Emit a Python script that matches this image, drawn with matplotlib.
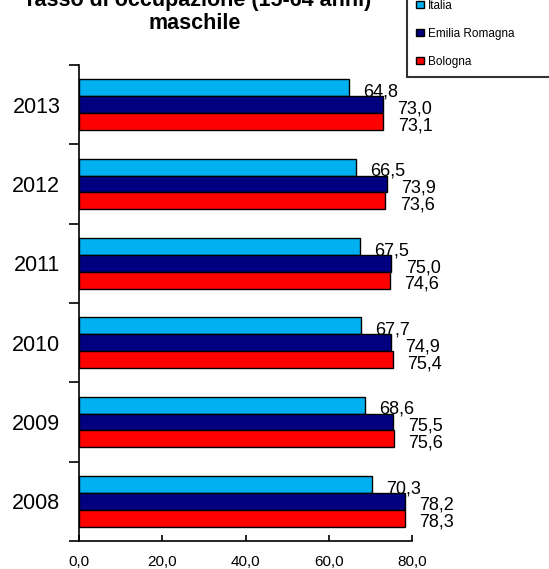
import matplotlib
matplotlib.use("Agg")
import matplotlib.pyplot as plt
import numpy as np
from matplotlib.ticker import FixedLocator, FuncFormatter

plt.rcParams["font.family"] = ["Liberation Sans", "DejaVu Sans"]

# Data.
years = ["2008", "2009", "2010", "2011", "2012", "2013"]
italia = [70.3, 68.6, 67.7, 67.5, 66.5, 64.8]
emilia_romagna = [78.2, 75.5, 74.9, 75.0, 73.9, 73.0]
bologna = [78.3, 75.6, 75.4, 74.6, 73.6, 73.1]
series_names = ["Italia", "Emilia Romagna", "Bologna"]
x_ticks = [0, 20, 40, 60, 80]

colors = ["#00B0F0", "#000080", "#FF0000"]


def comma(v):
    """Italian decimal comma."""
    return f"{v:.1f}".replace(".", ",")


fig = plt.figure(figsize=(5.49, 5.69), dpi=100)
ax = fig.add_axes([79 / 549, 1 - 541 / 569, (412 - 79) / 549, (541 - 65) / 569])

y = np.arange(len(years))
h = 0.214
offsets = [h, 0, -h]
bars = []
for vals, off, col, name in zip([italia, emilia_romagna, bologna], offsets, colors, series_names):
    b = ax.barh(y + off, vals, height=h, color=col, edgecolor="black", linewidth=1.0, label=name)
    bars.append(b)
    # Value labels to the right of each bar.
    for yi, v in zip(y, vals):
        ax.annotate(comma(v), xy=(v, yi + off), xytext=(10.5, -3), textcoords="offset points",
                    ha="left", va="center", fontsize=13, color="black")

ax.set_xlim(0, 80)
ax.set_ylim(-0.5, len(years) - 0.5)
ax.set_xticks(x_ticks)
ax.xaxis.set_major_formatter(FuncFormatter(lambda v, _: comma(v)))
ax.tick_params(axis="x", direction="in", length=4, width=1.2, labelsize=11, pad=10)

# Year labels centered, tick marks between categories.
ax.set_yticks(y)
ax.set_yticklabels(years, fontsize=15.5)
ax.tick_params(axis="y", which="major", length=0, pad=13.5)
ax.yaxis.set_minor_locator(FixedLocator(np.arange(-0.5, len(years), 1.0)))
ax.tick_params(axis="y", which="minor", direction="out", length=7, width=1.2)

for side in ["top", "right"]:
    ax.spines[side].set_visible(False)
for side in ["left", "bottom"]:
    ax.spines[side].set_linewidth(1.2)

# Title (first line partly cut off at the top, as in the original).
fig.text(197 / 549, 1 - 6 / 569, "Tasso di occupazione (15-64 anni)", ha="center", va="baseline",
         fontsize=15.5, fontweight="bold")
fig.text(195 / 549, 1 - 29 / 569, "maschile", ha="center", va="baseline",
         fontsize=15.5, fontweight="bold")

leg = fig.legend(handles=bars, labels=series_names, loc="lower left",
                 bbox_to_anchor=(407 / 549, 1 - 77 / 569, 200 / 549, 0.2), mode="expand",
                 fontsize=8.5, frameon=True, fancybox=False, handlelength=0.6, handleheight=0.6,
                 handletextpad=0.35, labelspacing=1.35, borderpad=0.8, borderaxespad=0)
leg.get_frame().set_edgecolor("black")
leg.get_frame().set_linewidth(1.5)

fig.savefig("out.png", dpi=100)
